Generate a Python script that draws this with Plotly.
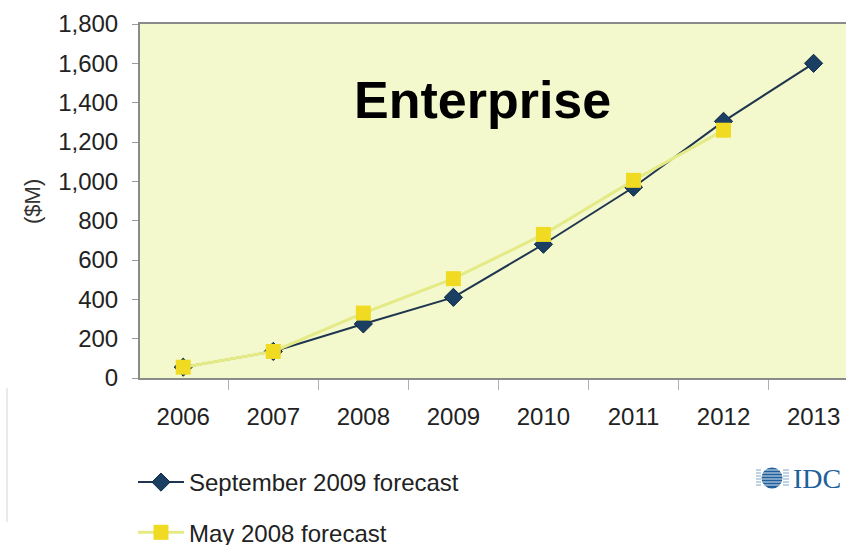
import plotly.graph_objects as go

# Enterprise market forecast, $M
years = ["2006", "2007", "2008", "2009", "2010", "2011", "2012", "2013"]
sep_2009 = [55, 135, 275, 410, 680, 970, 1305, 1600]
may_2008 = [55, 135, 330, 505, 730, 1005, 1260, None]
y_ticks = [0, 200, 400, 600, 800, 1000, 1200, 1400, 1600, 1800]

W, H = 846, 545
# plot area in pixels
PL, PR, PT, PB = 140, 846, 24, 378


def px(x):
    return x / W


def py(y):
    return 1 - y / H


fig = go.Figure()

fig.add_trace(go.Scatter(
    x=years, y=sep_2009, name="September 2009 forecast",
    mode="lines+markers", legendgroup="a",
    line=dict(color="#1f3550", width=2),
    marker=dict(symbol="diamond", size=14, color="#1b3e63",
                line=dict(color="#122a44", width=1)),
))
fig.add_trace(go.Scatter(
    x=years, y=may_2008, name="May 2008 forecast",
    mode="lines+markers", legendgroup="b",
    line=dict(color="#e4ea86", width=3),
    marker=dict(symbol="square", size=15, color="#f1da22",
                line=dict(color="#eed626", width=0)),
))

fig.update_xaxes(
    domain=[px(PL), px(PR)], automargin=False,
    type="category", range=[-0.48, 7.36], tickangle=0,
    showline=True, linecolor="#8a8a8a", linewidth=2, mirror=True,
    ticks="outside", tickson="boundaries", ticklen=10, tickcolor="#b0b0b0", tickwidth=1,
    tickfont=dict(family="Liberation Sans, Arial, sans-serif", size=24, color="#222222"),
    ticklabelstandoff=16,
    showgrid=False, zeroline=False, fixedrange=True,
)
fig.update_yaxes(
    domain=[py(PB), py(PT)], automargin=False,
    range=[0, 1800], tickvals=y_ticks, tickformat=",d",
    showline=True, linecolor="#8a8a8a", linewidth=2,
    ticks="outside", ticklen=6, tickcolor="#9a9a9a", tickwidth=1,
    tickfont=dict(family="Liberation Sans, Arial, sans-serif", size=24, color="#222222"),
    ticklabelstandoff=9,
    showgrid=False, zeroline=False, fixedrange=True,
)

# Axis title and chart heading
fig.add_annotation(
    text="($M)", xref="paper", yref="paper", x=px(32), y=py(202),
    xanchor="center", yanchor="middle",
    textangle=-90, showarrow=False,
    font=dict(family="Liberation Sans, Arial, sans-serif", size=22, color="#333333"),
)
fig.add_annotation(
    text="<b>Enterprise</b>", xref="paper", yref="paper", x=px(482), y=py(100),
    xanchor="center", yanchor="middle",
    showarrow=False,
    font=dict(family="Liberation Sans, Arial, sans-serif", size=52, color="#000000"),
)

# IDC logo
logo_cx, logo_cy, logo_r = 772, 478, 10.5
shapes = [
    dict(type="circle", xref="paper", yref="paper",
         x0=px(logo_cx - logo_r), x1=px(logo_cx + logo_r),
         y0=py(logo_cy + logo_r), y1=py(logo_cy - logo_r),
         fillcolor="#1f5f9c", line=dict(width=0)),
]
for dy in (-8, -5, -2, 1, 4, 7):
    yy = py(logo_cy + dy)
    shapes.append(dict(type="line", xref="paper", yref="paper",
                       x0=px(760), x1=px(784), y0=yy, y1=yy,
                       line=dict(color="rgba(255,255,255,0.85)", width=1)))
    shapes.append(dict(type="line", xref="paper", yref="paper",
                       x0=px(756), x1=px(761), y0=yy, y1=yy,
                       line=dict(color="#7ea6cc", width=1)))
    shapes.append(dict(type="line", xref="paper", yref="paper",
                       x0=px(783), x1=px(789), y0=yy, y1=yy,
                       line=dict(color="#7ea6cc", width=1)))
# faint slide frame on the left
shapes.append(dict(type="line", xref="paper", yref="paper",
                   x0=px(7), x1=px(7), y0=py(388), y1=py(522),
                   line=dict(color="#d6d6d6", width=1)))

fig.add_annotation(
    text="IDC", xref="paper", yref="paper", x=px(791), y=py(478),
    xanchor="left", yanchor="middle", showarrow=False,
    font=dict(family="Liberation Serif, Times New Roman, serif", size=28, color="#1f5f9c"),
)

fig.update_layout(
    width=W, height=H,
    margin=dict(l=0, r=0, t=0, b=0, autoexpand=False),
    paper_bgcolor="#ffffff", plot_bgcolor="#f3f9cc",
    shapes=shapes,
    showlegend=True,
    legend=dict(
        x=px(133), y=py(460), xanchor="left", yanchor="top",
        orientation="v", tracegroupgap=16, itemwidth=46,
        bgcolor="rgba(0,0,0,0)",
        font=dict(family="Liberation Sans, Arial, sans-serif", size=24, color="#222222"),
    ),
)

fig.write_html("out.html")
